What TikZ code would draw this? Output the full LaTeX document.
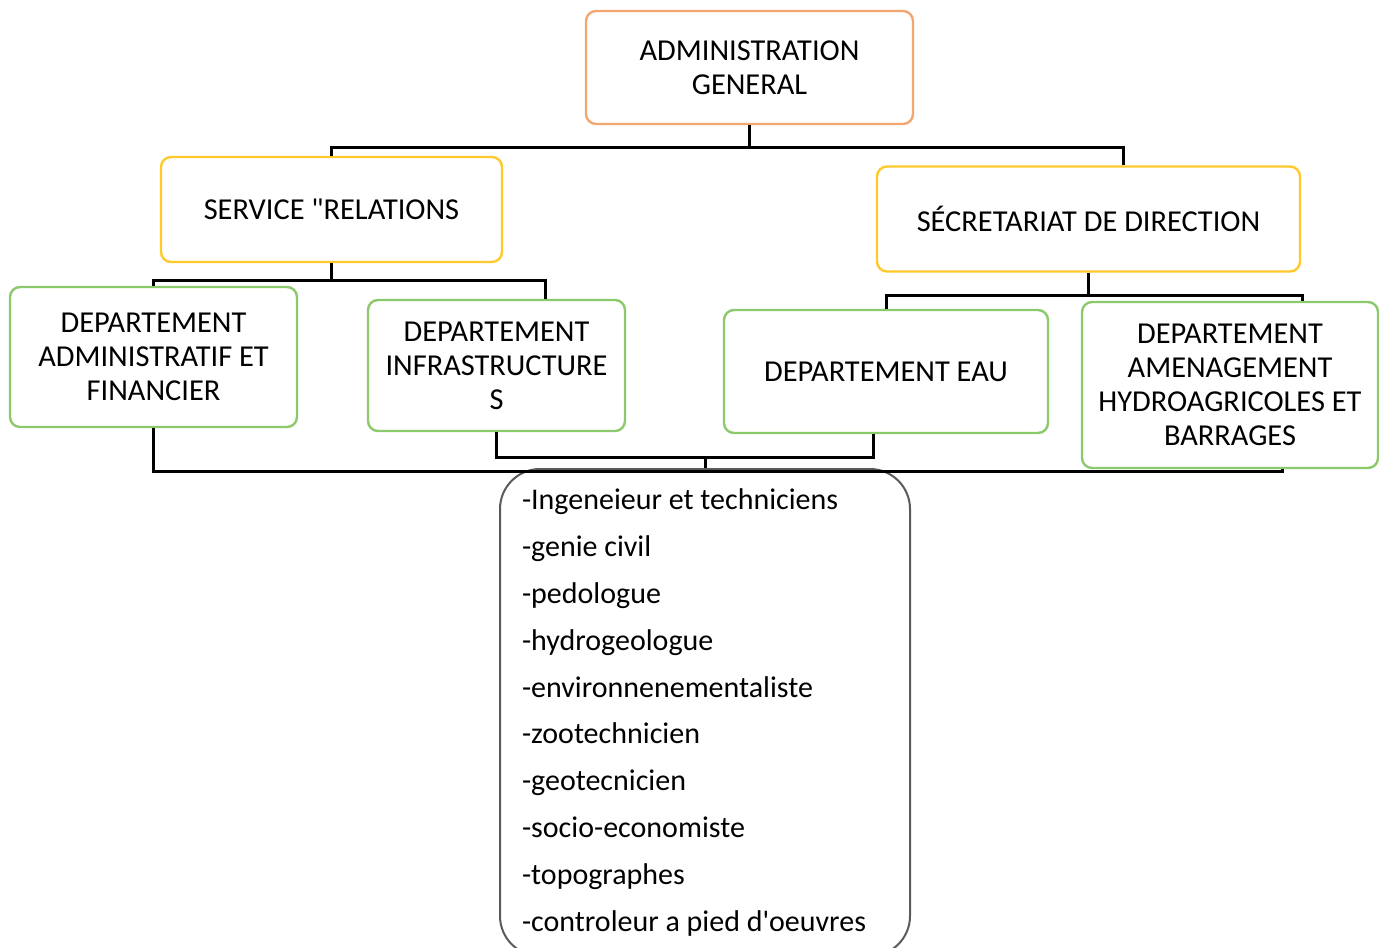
\documentclass[tikz,border=0pt]{standalone}
\usepackage{fontspec}
\setmainfont{Carlito}[Ligatures=TeXOff]
\usepackage{tikz}
\definecolor{myorange}{RGB}{244,166,112}
\definecolor{myyellow}{RGB}{255,200,45}
\definecolor{mygreen}{RGB}{140,200,108}
\definecolor{mygray}{RGB}{90,90,90}

\begin{document}
\begin{tikzpicture}[x=0.5pt,y=-0.5pt,
		orgbox/.style={draw,line width=1.2pt,rounded corners=5pt,fill=white,align=center,inner sep=0pt,
			font=\fontsize{15.2}{17}\selectfont},
		link/.style={black,line width=1.5pt}]
		\useasboundingbox (0,0) rectangle (1379,947);
		
		\node[orgbox,draw=myorange,minimum width=163.5pt,minimum height=56.5pt] (admin) at (749.5,67.5) {ADMINISTRATION\\GENERAL};
		\node[orgbox,draw=myyellow,minimum width=170.5pt,minimum height=52.5pt] (serv) at (331.5,209.5) {SERVICE "RELATIONS};
		\node[orgbox,draw=myyellow,minimum width=211.5pt,minimum height=52.5pt] (secr) at (1088.5,219) {SÉCRETARIAT DE DIRECTION};
		
		\node[orgbox,draw=mygreen,minimum width=143.5pt,minimum height=70pt] (dadm) at (153.5,357) {DEPARTEMENT\\ADMINISTRATIF ET\\FINANCIER};
		\node[orgbox,draw=mygreen,minimum width=128.5pt,minimum height=65.5pt] (dinf) at (496.5,365.5) {DEPARTEMENT\\INFRASTRUCTURE\\S};
		\node[orgbox,draw=mygreen,minimum width=162pt,minimum height=61.5pt] (deau) at (886,371.5) {DEPARTEMENT EAU};
		\node[orgbox,draw=mygreen,minimum width=148pt,minimum height=83pt] (damen) at (1230,385) {DEPARTEMENT\\AMENAGEMENT\\HYDROAGRICOLES ET\\BARRAGES};
		
		%Liste des profils
		\node[draw=mygray,line width=1pt,rounded corners=20pt,anchor=north,text width=183pt,inner xsep=11pt,
			minimum height=243.5pt,align=left,font=\fontsize{15}{23.4}\selectfont] (lst) at (705,468)
		{\spaceskip=0pt\relax
			-Ingeneieur et techniciens\\-genie civil\\-pedologue\\-hydrogeologue\\-environnenementaliste\\-zootechnicien\\-geotecnicien\\-socio-economiste\\-topographes\\-controleur a pied d'oeuvres};
		
		%Liaisons
		\coordinate (j1) at (750,147);
		\coordinate (j2) at (331,280);
		\coordinate (j3) at (1087,295);
		\coordinate (j4) at (705,457);
		\coordinate (busR) at (1282,471);
		
		\draw[link] (admin.south) -- (admin.south |- j1);
		\draw[link] (serv.north) |- (j1) -| ([xshift=17.25pt]secr.north);
		\draw[link] (serv.south) -- (serv.south |- j2);
		\draw[link] (dadm.north) |- (j2) -| ([xshift=24.25pt]dinf.north);
		\draw[link] (secr.south) -- (secr.south |- j3);
		\draw[link] (deau.north) |- (j3) -| ([xshift=36pt]damen.north);
		\draw[link] (dinf.south) |- (j4) -| ([xshift=-6.5pt]deau.south);
		\draw[link] (j4) -- (lst.north);
		\draw[link] (dadm.south) |- (busR) -- (busR |- damen.south);
		
	\end{tikzpicture}
\end{document}
